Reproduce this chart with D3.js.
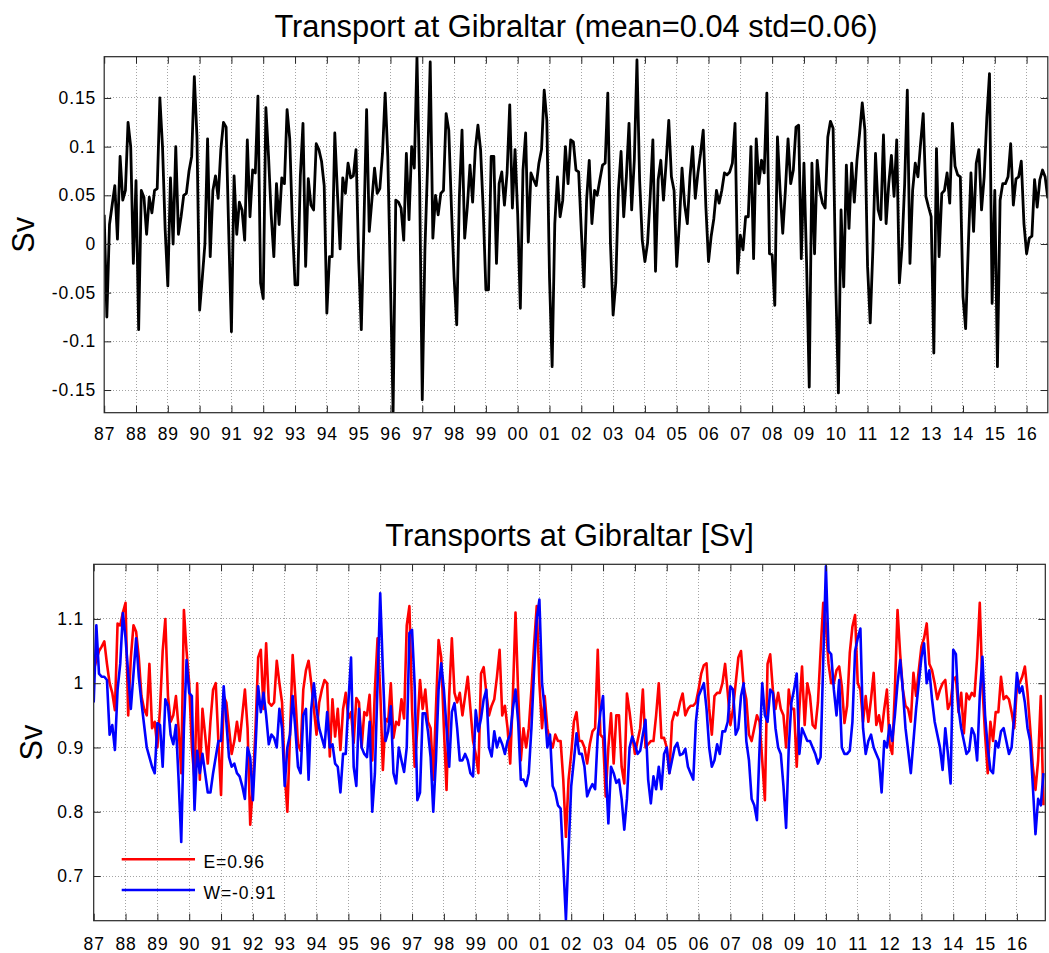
<!DOCTYPE html>
<html>
<head>
<meta charset="utf-8">
<script src="https://cdn.jsdelivr.net/npm/d3@7"></script>
<style>
  html, body { margin: 0; padding: 0; background: #fff; }
  svg { display: block; font-family: "Liberation Sans", Arial, Helvetica, sans-serif; }
</style>
</head>
<body>
<svg id="fig" width="1049" height="953"></svg>
<script>
// Monthly series starting January 1987
const startYear = 1987;

const yearLabels = ["87","88","89","90","91","92","93","94","95","96","97","98","99","00","01",
                    "02","03","04","05","06","07","08","09","10","11","12","13","14","15","16"];

// Net transport [Sv], one row per year
const netTransport = [
  0.03,-0.075,0.02,0.04,0.06,0.005,0.09,0.045,0.055,0.125,0.10,-0.02,
  0.065,-0.088,0.055,0.048,0.01,0.048,0.032,0.055,0.057,0.15,0.10,0.015,
  -0.043,0.068,0.0,0.10,0.01,0.028,0.05,0.052,0.075,0.09,0.172,0.11,
  -0.068,-0.035,0.0,0.108,-0.013,0.055,0.07,0.047,0.097,0.125,0.12,0.01,
  -0.09,0.07,0.01,0.043,0.035,0.004,0.107,0.028,0.076,0.073,0.152,-0.04,
  -0.056,0.14,0.09,0.03,-0.013,0.062,0.02,0.068,0.062,0.138,0.108,0.02,
  -0.042,-0.042,0.07,0.124,-0.023,0.067,0.04,0.035,0.103,0.097,0.085,0.06,
  -0.071,-0.013,-0.013,0.114,0.052,-0.005,0.068,0.052,0.083,0.068,0.07,0.097,
  -0.016,-0.088,0.021,0.138,0.013,0.045,0.078,0.052,0.057,0.093,0.155,0.09,
  -0.04,-0.172,0.045,0.043,0.037,0.004,0.093,0.025,0.10,0.078,0.192,0.062,
  -0.16,-0.006,0.08,0.187,0.006,0.05,0.03,0.052,0.055,0.134,0.117,0.038,
  -0.034,-0.083,0.049,0.117,0.006,0.038,0.081,0.043,0.097,0.122,0.097,0.035,
  -0.047,-0.047,0.09,0.09,-0.02,0.062,0.074,0.04,0.073,0.143,0.037,0.097,
  0.031,-0.066,0.076,0.114,0.002,0.073,0.066,0.06,0.083,0.097,0.158,0.127,
  -0.034,-0.126,0.021,0.069,0.028,0.045,0.10,0.062,0.107,0.105,0.076,0.074,
  0.014,-0.044,0.045,0.086,0.021,0.055,0.05,0.066,0.081,0.083,0.155,0.001,
  -0.073,-0.04,0.055,0.095,0.028,0.069,0.124,0.035,0.086,0.189,0.066,0.004,
  -0.018,0.001,0.049,0.107,-0.028,0.066,0.086,0.045,0.083,0.127,0.069,0.055,
  -0.023,0.021,0.078,0.04,0.021,0.069,0.10,0.047,0.073,0.093,0.117,0.038,
  -0.018,0.008,0.026,0.055,0.042,0.055,0.073,0.071,0.074,0.083,0.124,-0.03,
  0.009,-0.006,0.028,0.028,0.10,-0.015,0.108,0.062,0.086,0.073,0.155,-0.01,
  -0.011,-0.063,0.11,0.055,0.011,0.055,0.108,0.062,0.076,0.12,0.122,-0.015,
  0.083,-0.02,-0.147,0.083,-0.01,0.086,0.055,0.042,0.037,0.11,0.126,0.119,
  -0.04,-0.153,0.035,-0.044,0.081,0.016,0.083,0.043,0.086,0.114,0.145,0.117,
  -0.023,-0.081,-0.006,0.093,0.035,0.025,0.112,0.021,0.062,0.091,0.049,0.107,
  -0.04,-0.003,0.062,0.158,-0.02,0.055,0.083,0.069,0.103,0.134,0.049,0.038,
  0.028,-0.112,0.098,-0.013,0.052,0.055,0.073,0.042,0.124,0.08,0.071,0.069,
  -0.054,-0.087,-0.003,0.073,0.013,0.083,0.097,0.035,0.069,0.13,0.175,-0.061,
  0.055,-0.126,0.045,0.062,0.062,0.069,0.103,0.04,0.067,0.069,0.085,0.021,
  -0.01,0.006,0.008,0.066,0.038,0.066,0.076,0.069,0.047
];

// Eastern section transport [Sv]
const eastTransport = [
  1.02,1.036,1.05,1.057,1.065,1.03,1.0,0.985,0.958,1.093,1.09,1.11,
  1.125,0.95,1.04,1.09,1.08,1.04,0.98,0.96,0.95,1.03,0.93,0.94,
  0.9,0.96,1.05,1.10,0.98,0.94,0.95,0.98,0.93,0.86,1.114,1.05,
  1.0,0.90,0.85,1.0,0.85,0.96,0.92,0.875,0.94,0.99,1.0,0.91,
  0.826,0.98,0.97,0.93,0.89,0.91,0.94,0.91,0.95,0.99,0.93,0.78,
  0.84,0.93,1.04,1.052,0.96,1.062,0.97,0.965,0.97,1.035,1.0,0.97,
  0.86,0.80,0.92,1.044,0.98,0.905,0.895,0.99,1.02,1.035,1.0,0.96,
  0.92,0.97,0.99,1.005,1.0,0.886,0.975,0.917,0.96,0.896,0.96,0.985,
  0.945,0.955,0.907,0.977,0.97,0.9,0.955,0.95,0.982,0.88,0.99,1.07,
  0.99,0.865,0.945,0.94,1.0,0.915,0.94,0.935,0.975,0.945,1.09,1.12,
  0.96,0.87,0.93,1.005,0.96,0.99,0.94,0.93,0.85,0.96,1.067,1.04,
  0.93,0.834,0.98,1.07,0.985,0.97,0.985,0.95,0.98,1.01,0.96,0.91,
  0.89,0.86,1.015,1.025,0.985,0.95,0.965,0.975,1.01,1.052,0.95,0.965,
  0.93,0.875,0.98,1.11,0.985,0.88,0.93,0.9,0.93,0.99,1.06,1.12,
  1.0,0.93,0.98,0.93,0.91,0.9,0.92,0.91,0.91,0.85,0.761,0.85,
  0.89,0.94,0.955,0.91,0.91,0.9,0.875,0.905,0.925,0.93,1.052,0.92,
  0.915,0.824,0.9,0.953,0.875,0.95,0.95,0.87,0.844,0.984,0.955,0.92,
  0.89,0.91,0.93,0.99,0.9,0.905,0.91,0.91,0.95,1.0,0.915,0.915,
  0.9,0.86,0.94,0.955,0.95,0.97,0.984,0.95,0.96,0.965,0.965,0.97,
  0.99,1.015,1.028,1.031,0.96,0.92,0.98,0.985,0.985,1.0,1.03,0.985,
  0.935,0.96,1.0,1.04,1.05,0.995,0.975,0.92,0.91,0.93,0.95,0.94,
  0.88,0.818,1.03,1.045,0.99,0.96,0.985,0.96,0.95,0.9,0.99,0.96,
  0.96,0.87,0.96,1.026,0.935,1.0,0.98,0.935,0.93,0.97,1.05,1.125,
  1.09,1.03,1.0,1.0,1.02,1.026,0.995,0.938,0.965,1.047,1.088,1.106,
  1.0,0.99,0.94,0.98,0.94,0.975,1.016,0.935,0.95,0.925,0.96,0.99,
  0.905,0.89,0.99,1.114,1.045,0.99,0.965,0.96,0.94,1.016,0.98,1.02,
  1.057,1.07,1.093,1.03,1.02,1.0,0.975,0.99,1.0,1.005,0.96,0.97,
  1.005,1.01,0.955,0.985,0.922,0.984,0.975,0.985,0.98,1.04,1.125,0.995,
  0.92,0.86,0.94,0.91,0.955,0.955,1.01,0.975,0.98,0.975,0.955,0.93,
  0.995,1.0,1.01,1.026,0.985,0.93,0.87,0.834,0.88,0.98,0.81
];

// Western section transport [Sv]
const westTransport = [
  0.97,1.09,1.015,1.01,1.01,1.005,0.92,0.935,0.896,0.99,1.03,1.109,
  1.07,1.015,0.96,1.015,1.07,1.01,0.97,0.935,0.9,0.885,0.87,0.86,
  0.938,0.935,0.87,0.975,0.965,0.92,0.905,0.935,0.85,0.753,0.93,1.036,
  0.985,0.98,0.803,0.895,0.86,0.89,0.86,0.83,0.83,0.86,0.885,0.91,
  0.91,0.995,0.94,0.885,0.87,0.875,0.86,0.855,0.84,0.82,0.9,0.885,
  0.818,0.9,0.995,0.955,0.985,0.95,0.905,0.92,0.915,0.9,0.96,0.93,
  0.84,0.9,0.92,0.98,0.93,0.87,0.86,0.95,0.96,0.85,0.96,1.0,
  0.96,0.93,0.915,0.9,0.955,0.9,0.905,0.875,0.87,0.83,0.89,0.89,
  0.97,1.04,0.87,0.84,0.96,0.9,0.89,0.885,0.94,0.8,0.86,1.0,
  1.14,1.02,0.91,0.925,0.964,0.86,0.844,0.9,0.88,0.862,0.9,1.078,
  1.083,0.995,0.818,0.83,0.953,0.953,0.925,0.885,0.8,0.88,0.99,1.031,
  0.99,0.93,0.87,0.955,0.969,0.93,0.88,0.88,0.89,0.88,0.86,0.855,
  0.958,0.925,0.945,0.975,0.99,0.9,0.886,0.925,0.9,0.915,0.905,0.89,
  0.91,0.92,0.96,0.99,0.94,0.85,0.85,0.84,0.86,0.93,1.02,1.1,
  1.13,1.0,0.96,0.9,0.92,0.84,0.83,0.81,0.805,0.72,0.632,0.74,
  0.84,0.88,0.922,0.89,0.89,0.87,0.824,0.835,0.843,0.835,0.92,0.955,
  0.98,0.87,0.782,0.87,0.86,0.845,0.85,0.82,0.772,0.82,0.9,0.917,
  0.905,0.89,0.895,0.92,0.943,0.85,0.813,0.855,0.835,0.87,0.835,0.89,
  0.9,0.86,0.88,0.9,0.907,0.888,0.89,0.898,0.87,0.86,0.85,0.94,
  0.98,0.99,1.0,0.96,0.9,0.87,0.88,0.905,0.89,0.925,0.925,0.94,
  0.995,0.99,0.92,0.93,0.98,1.0,0.91,0.88,0.82,0.81,0.787,0.9,
  1.0,0.95,0.94,0.99,0.985,0.93,0.9,0.89,0.84,0.775,0.9,0.97,
  0.99,1.015,0.89,0.93,0.92,0.91,0.91,0.9,0.89,0.875,0.885,1.036,
  1.182,1.05,1.045,0.99,0.95,1.005,0.9,0.89,0.89,0.895,0.94,1.05,
  1.07,1.085,0.93,0.89,0.91,0.92,0.9,0.89,0.88,0.83,0.91,0.9,
  0.935,0.91,0.95,1.0,1.036,0.99,0.93,0.895,0.86,0.91,0.96,1.0,
  1.04,1.062,1.0,1.02,0.975,0.94,0.92,0.9,0.865,0.93,0.89,0.844,
  1.052,1.045,0.96,0.93,0.91,0.89,0.895,0.93,0.92,0.88,0.98,1.041,
  0.95,0.9,0.865,0.86,0.91,0.9,0.925,0.93,0.91,0.89,0.9,0.95,
  1.016,0.985,0.995,0.97,0.93,0.91,0.84,0.765,0.82,0.81,0.86
];

const netTicks = [-0.15, -0.1, -0.05, 0, 0.05, 0.1, 0.15];
const netTickLabels = ["-0.15", "-0.1", "-0.05", "0", "0.05", "0.1", "0.15"];
const ewTicks = [0.7, 0.8, 0.9, 1.0, 1.1];
const ewTickLabels = ["0.7", "0.8", "0.9", "1", "1.1"];
const legendLabels = ["E=0.96", "W=-0.91"];

const svg = d3.select("#fig");
const AXIS_COLOR = "#262626";
const yearTicks = yearLabels.map((_, k) => startYear + k);
const toPoints = vals => vals.map((v, i) => [startYear + i / 12, v]);

function drawPanel(cfg) {
  const g = svg.append("g");
  const x = d3.scaleLinear().domain(cfg.xDomain).range([cfg.left, cfg.right]);
  const y = d3.scaleLinear().domain(cfg.yDomain).range([cfg.bottom, cfg.top]);

  // dotted grid
  const grid = g.append("g").attr("stroke", "#a4a4a4").attr("stroke-width", 1)
    .attr("stroke-dasharray", "1,2").attr("shape-rendering", "crispEdges");
  grid.selectAll("line.v").data(yearTicks.slice(1)).join("line")
    .attr("x1", d => x(d)).attr("x2", d => x(d))
    .attr("y1", cfg.top).attr("y2", cfg.bottom);
  grid.selectAll("line.h").data(cfg.yTicks).join("line")
    .attr("x1", cfg.left).attr("x2", cfg.right)
    .attr("y1", d => y(d)).attr("y2", d => y(d));

  // clipped data lines
  const clipId = cfg.id + "-clip";
  svg.append("clipPath").attr("id", clipId).append("rect")
    .attr("x", cfg.left).attr("y", cfg.top)
    .attr("width", cfg.right - cfg.left).attr("height", cfg.bottom - cfg.top);
  const line = d3.line().x(d => x(d[0])).y(d => y(d[1]));
  const lines = g.append("g").attr("clip-path", `url(#${clipId})`);
  cfg.series.forEach(s => {
    lines.append("path").datum(toPoints(s.values))
      .attr("fill", "none").attr("stroke", s.color)
      .attr("stroke-width", s.width).attr("stroke-linejoin", "round")
      .attr("d", line);
  });

  // axes with inward ticks on all four sides
  const styleAxis = sel => {
    sel.attr("font-size", 17.5).attr("font-family", null).attr("color", AXIS_COLOR);
    sel.select(".domain").remove();
    sel.selectAll("text").attr("fill", "#000").attr("letter-spacing", "0.9px");
  };
  g.append("g").attr("transform", `translate(0,${cfg.bottom})`)
    .call(d3.axisBottom(x).tickValues(yearTicks).tickFormat((d, i) => yearLabels[i])
      .tickSize(-7).tickPadding(cfg.xPad))
    .call(styleAxis);
  g.append("g").attr("transform", `translate(0,${cfg.top})`)
    .call(d3.axisTop(x).tickValues(yearTicks).tickFormat(() => "").tickSize(-7))
    .call(styleAxis);
  g.append("g").attr("transform", `translate(${cfg.left},0)`)
    .call(d3.axisLeft(y).tickValues(cfg.yTicks).tickFormat((d, i) => cfg.yLabels[i])
      .tickSize(-7).tickPadding(cfg.yPad))
    .call(styleAxis);
  g.append("g").attr("transform", `translate(${cfg.right},0)`)
    .call(d3.axisRight(y).tickValues(cfg.yTicks).tickFormat(() => "").tickSize(-7))
    .call(styleAxis);

  g.append("rect").attr("x", cfg.left).attr("y", cfg.top)
    .attr("width", cfg.right - cfg.left).attr("height", cfg.bottom - cfg.top)
    .attr("fill", "none").attr("stroke", AXIS_COLOR).attr("stroke-width", 1.2);

  // title and y label
  g.append("text").attr("x", (cfg.left + cfg.right) / 2).attr("y", cfg.titleY)
    .attr("text-anchor", "middle").attr("font-size", 30.8).attr("fill", "#000")
    .text(cfg.title);
  g.append("text")
    .attr("transform", `translate(${cfg.ylabelX},${(cfg.top + cfg.bottom) / 2}) rotate(-90)`)
    .attr("text-anchor", "middle").attr("font-size", 30.8).attr("fill", "#000")
    .text("Sv");

  return { g, x, y };
}

drawPanel({
  id: "net",
  left: 104.2, right: 1047.8, top: 56.7, bottom: 412.7,
  xDomain: [startYear, startYear + 356 / 12],
  yDomain: [-0.1733, 0.1924],
  yTicks: netTicks, yLabels: netTickLabels,
  xPad: 15, yPad: 8,
  title: "Transport at Gibraltar (mean=0.04 std=0.06)", titleY: 37,
  ylabelX: 34,
  series: [{ values: netTransport, color: "#000000", width: 2.8 }]
});

const ew = drawPanel({
  id: "ew",
  left: 93.7, right: 1045.3, top: 564.3, bottom: 920.7,
  xDomain: [startYear, startYear + 358.7 / 12],
  yDomain: [0.6305, 1.185],
  yTicks: ewTicks, yLabels: ewTickLabels,
  xPad: 17, yPad: 9.5,
  title: "Transports at Gibraltar [Sv]", titleY: 546,
  ylabelX: 42,
  series: [
    { values: eastTransport, color: "#ff0000", width: 2.6 },
    { values: westTransport, color: "#0000ff", width: 2.6 }
  ]
});

// legend (no frame)
const legend = ew.g.append("g");
[["#ff0000", 859.3, 868], ["#0000ff", 890, 899]].forEach(([c, ly, ty], i) => {
  legend.append("line").attr("x1", 121.7).attr("x2", 195).attr("y1", ly).attr("y2", ly)
    .attr("stroke", c).attr("stroke-width", 2.6);
  legend.append("text").attr("x", 203.5).attr("y", ty).attr("font-size", 17.5)
    .attr("letter-spacing", "0.9px").attr("fill", "#000").text(legendLabels[i]);
});
</script>
</body>
</html>
